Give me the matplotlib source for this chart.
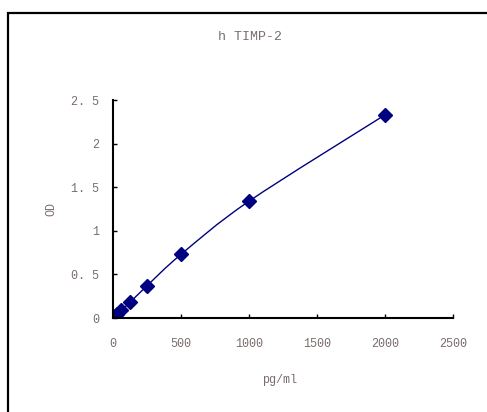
import numpy as np
import matplotlib.pyplot as plt
from matplotlib.path import Path
from matplotlib.patches import PathPatch, Rectangle

# standaardcurve
conc = [0, 15.6, 31.25, 62.5, 125, 250, 500, 1000, 2000]
od = [0.0, 0.02, 0.045, 0.09, 0.18, 0.37, 0.73, 1.34, 2.33]
x_ticks = [0, 500, 1000, 1500, 2000, 2500]
y_ticks = [0, 0.5, 1, 1.5, 2, 2.5]
y_labels = ["0", "0. 5", "1", "1. 5", "2", "2. 5"]

txt = "#7a6c6c"
navy = "#000080"
font = "Liberation Mono"

fig = plt.figure(figsize=(4.87, 4.12), dpi=100)
fig.patches.append(Rectangle((8 / 487, -0.1), 1.2, 1 - 13 / 412 + 0.1,
                             transform=fig.transFigure, fill=False,
                             edgecolor="black", linewidth=1.6))
ax = fig.add_axes([0.232, 0.228, 0.698, 0.529])

# gladde lijn (Excel-achtig, Catmull-Rom naar Bezier)
pts = np.column_stack([conc, od])
verts = [tuple(pts[0])]
codes = [Path.MOVETO]
n = len(pts)
for i in range(n - 1):
    p0 = pts[max(i - 1, 0)]
    p1 = pts[i]
    p2 = pts[i + 1]
    p3 = pts[min(i + 2, n - 1)]
    c1 = p1 + (p2 - p0) / 6
    c2 = p2 - (p3 - p1) / 6
    verts += [tuple(c1), tuple(c2), tuple(p2)]
    codes += [Path.CURVE4] * 3
ax.add_patch(PathPatch(Path(verts, codes), fill=False, edgecolor=navy, linewidth=1))
ax.plot(conc, od, linestyle="none", marker="D", markersize=7, color=navy)

ax.set_xlim(0, 2500)
ax.set_ylim(0, 2.5)
ax.set_xticks(x_ticks)
ax.set_xticklabels([str(t) for t in x_ticks], fontsize=8.5, color=txt, family=font)
ax.set_yticks(y_ticks)
ax.set_yticklabels(y_labels, fontsize=8.5, color=txt, family=font)
ax.tick_params(direction="in", length=3, width=1)
ax.tick_params(axis="x", pad=14)
ax.tick_params(axis="y", pad=10)
for s in ["top", "right"]:
    ax.spines[s].set_visible(False)
for s in ["left", "bottom"]:
    ax.spines[s].set_linewidth(1.5)
ax.set_xlabel("pg/ml", fontsize=8.5, color=txt, family=font)
ax.set_ylabel("OD", fontsize=8.5, color=txt, family=font)
ax.xaxis.set_label_coords(0.49, -0.255)
ax.yaxis.set_label_coords(-0.165, 0.5)
fig.text(250 / 487, 1 - 37 / 412, "h TIMP-2", fontsize=9.5, color=txt, family=font,
         ha="center", va="center")

plt.savefig("out.png", dpi=100)
